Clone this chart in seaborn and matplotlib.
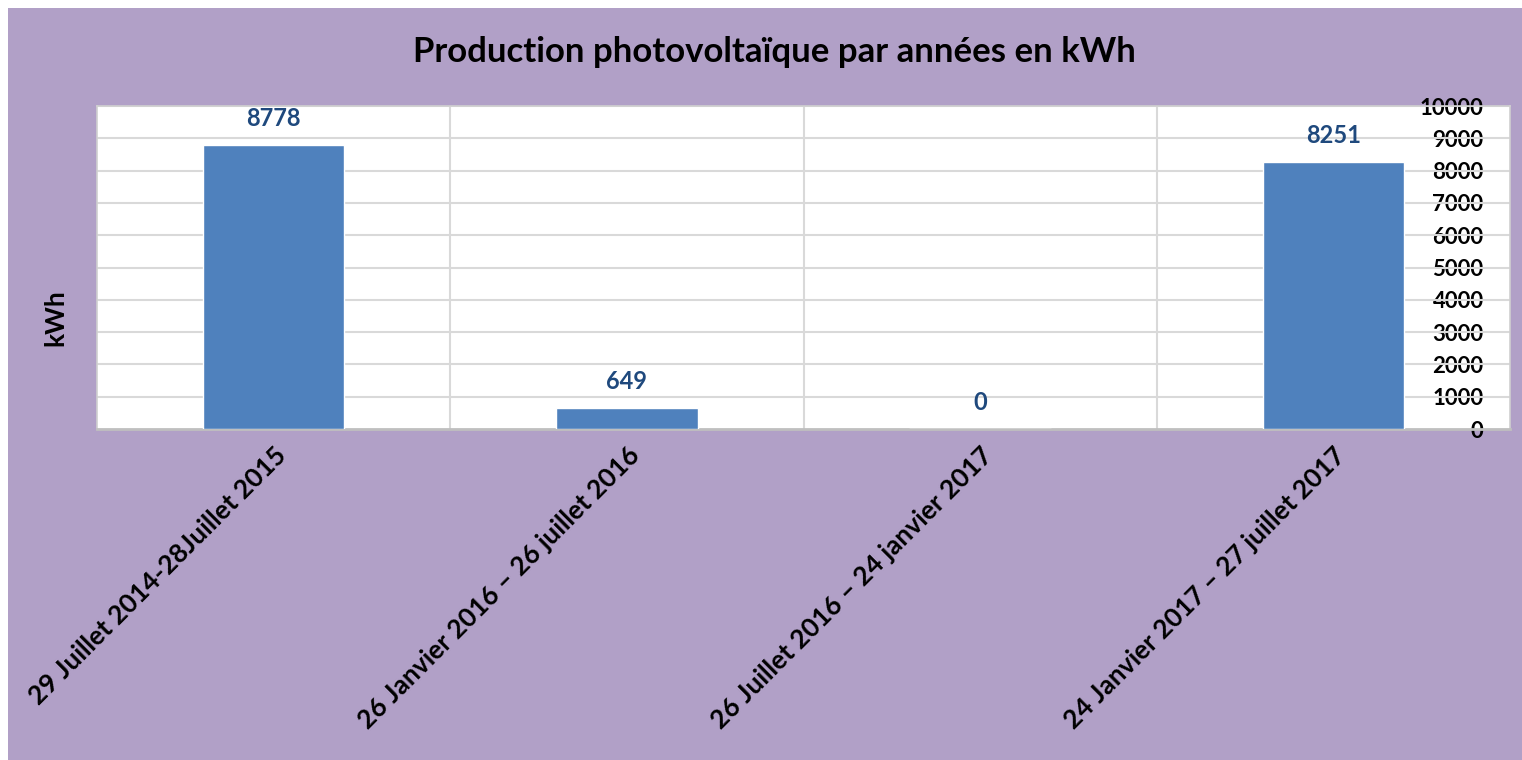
import pandas as pd
import numpy as np
import seaborn as sns
import matplotlib.pyplot as plt
from matplotlib.patches import Rectangle

periodes = ["29 Juillet 2014-28Juillet 2015",
            "26 Janvier 2016 \u2013 26 juillet 2016",
            "26 Juillet 2016 \u2013 24 janvier 2017",
            "24 Janvier 2017 \u2013 27 juillet 2017"]
production = [8778, 649, 0, 8251]
yticks = [0, 1000, 2000, 3000, 4000, 5000, 6000, 7000, 8000, 9000, 10000]

df = pd.DataFrame({"periode": periodes, "kwh": production})

sns.set_theme(style="white")
plt.rcParams['font.family'] = ['Lato', 'DejaVu Sans']
plt.rcParams['text.color'] = 'black'
plt.rcParams['xtick.color'] = 'black'
plt.rcParams['ytick.color'] = 'black'
plt.rcParams['axes.labelcolor'] = 'black'

fig = plt.figure(figsize=(15.22, 7.6), dpi=100)
fig.patch.set_facecolor("white")
# purple chart area background
fig.patches.append(Rectangle((8 / 1522, 0), 1 - 8 / 1522, 1 - 8 / 760,
                             transform=fig.transFigure, facecolor="#B1A0C7",
                             edgecolor="none", zorder=-5))

ax = fig.add_axes([97 / 1522, 1 - 429 / 760, (1510 - 97) / 1522, (429 - 106) / 760])
ax.set_zorder(1)
ax.set_facecolor("white")

sns.barplot(data=df, x="periode", y="kwh", color="#4F81BD", width=0.4,
            saturation=1, ax=ax, zorder=3)

ax.set_ylim(0, 10000)
ax.set_xlim(-0.5, len(periodes) - 0.5)
ax.set_yticks(yticks)
ax.yaxis.tick_right()
ax.tick_params(axis="y", length=0, pad=-19, labelsize=16)
for lab in ax.get_yticklabels():
    lab.set_horizontalalignment("right")
    lab.set_fontweight("bold")

# grid
for y in yticks[1:]:
    ax.axhline(y, color="#D9D9D9", lw=1.5, zorder=1)
for xb in np.arange(0.5, len(periodes) - 0.5, 1):
    ax.axvline(xb, color="#D9D9D9", lw=1.5, zorder=1)

for s in ax.spines.values():
    s.set_color("#D0D0D0")
    s.set_linewidth(1.2)
ax.spines["bottom"].set_color("#BFBFBF")
ax.spines["bottom"].set_linewidth(2)

# value labels
for i, v in enumerate(production):
    ax.annotate(str(v), (i, v), xytext=(0, 11), textcoords="offset points",
                ha="center", va="bottom", fontsize=17, fontweight="bold",
                color="#1F497D", zorder=4)

ax.set_xticks(range(len(periodes)))
ax.set_xticklabels(periodes, rotation=45, ha="right", rotation_mode="anchor",
                   fontsize=19, fontweight="bold")
ax.tick_params(axis="x", length=0, pad=10)
ax.set_xlabel("")
ax.set_ylabel("")
fig.text(55 / 1522, 1 - 318 / 760, "kWh", rotation=90, ha="center", va="center",
         fontsize=19, fontweight="bold")

fig.text(774 / 1522, 1 - 52 / 760, "Production photovolta\u00efque par ann\u00e9es en kWh",
         ha="center", va="center", fontsize=25, fontweight="bold")

fig.savefig("out.png", dpi=100)
